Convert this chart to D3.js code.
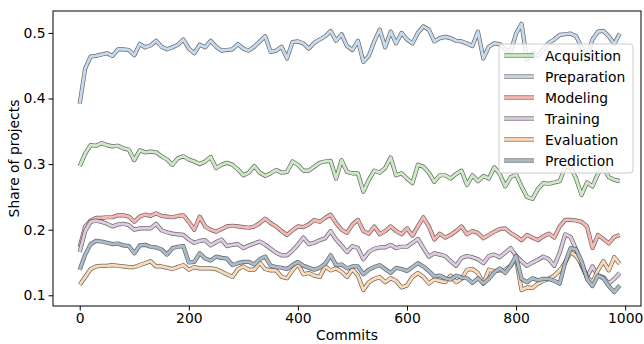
<!DOCTYPE html>
<html>
<head>
<meta charset="utf-8">
<script src="https://cdn.jsdelivr.net/npm/d3@7"></script>
<style>
  body { margin: 0; background: #fff; }
  svg { display: block; font-family: "DejaVu Sans", sans-serif; }
</style>
</head>
<body>
<div id="chart"></div>
<script>
// commits on the x axis
const commits = [0, 10, 20, 30, 40, 50, 60, 70, 80, 90, 100, 110, 120, 130, 140, 150, 160, 170, 180, 190,
  200, 210, 220, 230, 240, 250, 260, 270, 280, 290, 300, 310, 320, 330, 340, 350, 360, 370, 380, 390,
  400, 410, 420, 430, 440, 450, 460, 470, 480, 490, 500, 510, 520, 530, 540, 550, 560, 570, 580, 590,
  600, 610, 620, 630, 640, 650, 660, 670, 680, 690, 700, 710, 720, 730, 740, 750, 760, 770, 780, 790,
  800, 810, 820, 830, 840, 850, 860, 870, 880, 890, 900, 910, 920, 930, 940, 950, 960, 970, 980, 990];

const stages = ["Acquisition", "Preparation", "Modeling", "Training", "Evaluation", "Prediction"];
const colors = ["#ccebc5", "#c6dbf0", "#f7b8b4", "#decbe4", "#fed9b4", "#a9bccc"];

const acquisition = [0.297, 0.316, 0.329, 0.328, 0.332, 0.329, 0.327, 0.328, 0.324, 0.322,
  0.306, 0.321, 0.318, 0.319, 0.318, 0.312, 0.307, 0.299, 0.309, 0.312,
  0.307, 0.304, 0.300, 0.304, 0.311, 0.294, 0.299, 0.302, 0.299, 0.292,
  0.283, 0.287, 0.297, 0.287, 0.282, 0.286, 0.291, 0.287, 0.288, 0.304,
  0.299, 0.290, 0.290, 0.296, 0.302, 0.304, 0.305, 0.278, 0.306, 0.288,
  0.286, 0.286, 0.258, 0.276, 0.290, 0.287, 0.294, 0.310, 0.283, 0.286,
  0.278, 0.271, 0.299, 0.296, 0.287, 0.273, 0.283, 0.283, 0.278, 0.285,
  0.290, 0.268, 0.283, 0.274, 0.282, 0.278, 0.295, 0.285, 0.266, 0.280,
  0.284, 0.266, 0.250, 0.247, 0.262, 0.271, 0.270, 0.272, 0.274, 0.296,
  0.295, 0.278, 0.253, 0.272, 0.266, 0.285, 0.296, 0.280, 0.276, 0.274];

const preparation = [0.392, 0.446, 0.464, 0.465, 0.467, 0.469, 0.465, 0.475, 0.475, 0.474,
  0.466, 0.483, 0.478, 0.481, 0.488, 0.479, 0.475, 0.478, 0.482, 0.490,
  0.476, 0.469, 0.482, 0.478, 0.488, 0.479, 0.473, 0.474, 0.475, 0.483,
  0.476, 0.473, 0.479, 0.487, 0.495, 0.471, 0.473, 0.479, 0.461, 0.486,
  0.487, 0.484, 0.476, 0.485, 0.490, 0.495, 0.503, 0.488, 0.498, 0.480,
  0.474, 0.488, 0.456, 0.465, 0.487, 0.505, 0.478, 0.502, 0.484, 0.500,
  0.490, 0.484, 0.500, 0.510, 0.505, 0.487, 0.492, 0.494, 0.492, 0.488,
  0.487, 0.484, 0.480, 0.502, 0.461, 0.479, 0.484, 0.483, 0.475, 0.471,
  0.499, 0.514, 0.459, 0.470, 0.465, 0.475, 0.485, 0.490, 0.497, 0.498,
  0.499, 0.495, 0.478, 0.462, 0.490, 0.502, 0.503, 0.495, 0.483, 0.499];

const modeling = [0.174, 0.205, 0.214, 0.218, 0.218, 0.219, 0.219, 0.222, 0.222, 0.220,
  0.212, 0.220, 0.223, 0.221, 0.225, 0.221, 0.220, 0.219, 0.221, 0.222,
  0.212, 0.200, 0.220, 0.205, 0.200, 0.197, 0.201, 0.205, 0.206, 0.205,
  0.204, 0.203, 0.205, 0.210, 0.217, 0.210, 0.205, 0.198, 0.192, 0.199,
  0.205, 0.204, 0.208, 0.215, 0.212, 0.218, 0.223, 0.210, 0.200, 0.195,
  0.208, 0.215, 0.198, 0.194, 0.205, 0.193, 0.198, 0.205, 0.198, 0.193,
  0.202, 0.191, 0.205, 0.219, 0.205, 0.185, 0.194, 0.188, 0.192, 0.198,
  0.205, 0.193, 0.198, 0.195, 0.187, 0.192, 0.197, 0.201, 0.202, 0.195,
  0.190, 0.184, 0.192, 0.188, 0.184, 0.190, 0.194, 0.188, 0.205, 0.215,
  0.215, 0.214, 0.212, 0.205, 0.172, 0.192, 0.186, 0.179, 0.189, 0.192];

const training = [0.166, 0.198, 0.212, 0.214, 0.212, 0.209, 0.205, 0.208, 0.209, 0.207,
  0.200, 0.202, 0.202, 0.202, 0.209, 0.199, 0.196, 0.194, 0.193, 0.192,
  0.185, 0.180, 0.183, 0.184, 0.176, 0.181, 0.185, 0.175, 0.177, 0.178,
  0.172, 0.176, 0.179, 0.182, 0.177, 0.171, 0.165, 0.161, 0.161, 0.168,
  0.177, 0.188, 0.178, 0.180, 0.184, 0.187, 0.198, 0.185, 0.176, 0.166,
  0.175, 0.172, 0.155, 0.166, 0.171, 0.173, 0.173, 0.177, 0.172, 0.174,
  0.174, 0.180, 0.186, 0.172, 0.159, 0.164, 0.162, 0.160, 0.152, 0.145,
  0.157, 0.160, 0.158, 0.155, 0.149, 0.160, 0.162, 0.158, 0.165, 0.172,
  0.160, 0.152, 0.145, 0.150, 0.154, 0.159, 0.155, 0.145, 0.165, 0.193,
  0.189, 0.170, 0.145, 0.128, 0.144, 0.130, 0.128, 0.118, 0.125, 0.134];

const evaluation = [0.116, 0.128, 0.140, 0.144, 0.145, 0.145, 0.146, 0.145, 0.144, 0.143,
  0.143, 0.146, 0.149, 0.152, 0.144, 0.144, 0.142, 0.140, 0.143, 0.146,
  0.139, 0.143, 0.141, 0.141, 0.141, 0.140, 0.136, 0.132, 0.128, 0.140,
  0.144, 0.139, 0.139, 0.150, 0.140, 0.138, 0.138, 0.128, 0.126, 0.138,
  0.148, 0.132, 0.134, 0.130, 0.128, 0.144, 0.138, 0.141, 0.136, 0.128,
  0.140, 0.130, 0.108, 0.120, 0.125, 0.128, 0.120, 0.126, 0.122, 0.112,
  0.115, 0.128, 0.134, 0.128, 0.118, 0.124, 0.122, 0.120, 0.130, 0.120,
  0.125, 0.139, 0.140, 0.134, 0.118, 0.139, 0.137, 0.138, 0.139, 0.145,
  0.156, 0.108, 0.112, 0.111, 0.118, 0.122, 0.125, 0.130, 0.138, 0.150,
  0.166, 0.160, 0.148, 0.128, 0.120, 0.138, 0.152, 0.138, 0.158, 0.148];

const prediction = [0.139, 0.162, 0.178, 0.183, 0.182, 0.180, 0.178, 0.179, 0.176, 0.175,
  0.164, 0.176, 0.177, 0.174, 0.173, 0.170, 0.162, 0.172, 0.174, 0.175,
  0.150, 0.151, 0.164, 0.156, 0.153, 0.159, 0.157, 0.156, 0.146, 0.149,
  0.151, 0.151, 0.147, 0.155, 0.159, 0.145, 0.143, 0.142, 0.140, 0.146,
  0.151, 0.145, 0.142, 0.139, 0.142, 0.148, 0.161, 0.146, 0.147, 0.141,
  0.144, 0.144, 0.132, 0.139, 0.143, 0.146, 0.140, 0.134, 0.142, 0.140,
  0.137, 0.143, 0.149, 0.144, 0.137, 0.129, 0.130, 0.126, 0.124, 0.130,
  0.127, 0.126, 0.119, 0.126, 0.118, 0.125, 0.135, 0.141, 0.134, 0.145,
  0.160, 0.125, 0.120, 0.126, 0.123, 0.125, 0.125, 0.122, 0.118, 0.150,
  0.172, 0.170, 0.152, 0.125, 0.114, 0.130, 0.126, 0.114, 0.105, 0.115];

const xTicks = [0, 200, 400, 600, 800, 1000];
const yTicks = [0.1, 0.2, 0.3, 0.4, 0.5];

const series = [acquisition, preparation, modeling, training, evaluation, prediction];

const width = 644, height = 344;
const margin = { top: 11, right: 3, bottom: 38, left: 53 };
const fontSize = 13.9;

const svg = d3.select("#chart").append("svg")
  .attr("width", width)
  .attr("height", height);

const x = d3.scaleLinear()
  .domain([-49, 1029])
  .range([margin.left, width - margin.right]);

const y = d3.scaleLinear()
  .domain([0.0837, 0.5334])
  .range([height - margin.bottom, margin.top]);

const line = d3.line()
  .x((d, i) => x(commits[i]))
  .y(d => y(d));

// outline + pastel line, like a stroke path effect
const outline = { color: "#404040", opacity: 0.8, width: 4.2 };
const inner = 2.8;

series.forEach((vals, k) => {
  const g = svg.append("g");
  g.append("path")
    .attr("d", line(vals))
    .attr("fill", "none")
    .attr("stroke", outline.color)
    .attr("stroke-opacity", outline.opacity)
    .attr("stroke-width", outline.width)
    .attr("stroke-linejoin", "round");
  g.append("path")
    .attr("d", line(vals))
    .attr("fill", "none")
    .attr("stroke", colors[k])
    .attr("stroke-width", inner)
    .attr("stroke-linejoin", "round");
});

// axes
const xAxis = svg.append("g")
  .attr("transform", `translate(0,${height - margin.bottom})`)
  .call(d3.axisBottom(x).tickValues(xTicks).tickFormat(d3.format("d"))
    .tickSize(4.5).tickPadding(2.8).tickSizeOuter(0));

const yAxis = svg.append("g")
  .attr("transform", `translate(${margin.left},0)`)
  .call(d3.axisLeft(y).tickValues(yTicks).tickFormat(d3.format(".1f"))
    .tickSize(4.5).tickPadding(2.8).tickSizeOuter(0));

[xAxis, yAxis].forEach(a => {
  a.select(".domain").remove();
  a.selectAll("text").attr("font-size", fontSize).attr("fill", "#000").attr("font-family", "DejaVu Sans");
  a.selectAll("line").attr("stroke", "#000").attr("stroke-width", 1);
});

// frame
svg.append("rect")
  .attr("x", margin.left)
  .attr("y", margin.top)
  .attr("width", width - margin.right - margin.left)
  .attr("height", height - margin.bottom - margin.top)
  .attr("fill", "none")
  .attr("stroke", "#000")
  .attr("stroke-width", 1);

svg.append("text")
  .attr("x", (margin.left + width - margin.right) / 2)
  .attr("y", 340)
  .attr("text-anchor", "middle")
  .attr("font-size", fontSize)
  .text("Commits");

svg.append("text")
  .attr("transform", `translate(19,${(margin.top + height - margin.bottom) / 2}) rotate(-90)`)
  .attr("text-anchor", "middle")
  .attr("font-size", fontSize)
  .text("Share of projects");

// legend
const leg = svg.append("g").attr("transform", "translate(499,44)");
leg.append("rect")
  .attr("width", 134)
  .attr("height", 129)
  .attr("rx", 3)
  .attr("fill", "#fff")
  .attr("fill-opacity", 0.8)
  .attr("stroke", "#ccc")
  .attr("stroke-width", 1);

stages.forEach((s, k) => {
  const row = leg.append("g").attr("transform", `translate(0,${11.5 + k * 21})`);
  row.append("line")
    .attr("x1", 5).attr("x2", 35)
    .attr("stroke", outline.color).attr("stroke-opacity", outline.opacity)
    .attr("stroke-width", outline.width);
  row.append("line")
    .attr("x1", 5).attr("x2", 35)
    .attr("stroke", colors[k])
    .attr("stroke-width", inner);
  row.append("text")
    .attr("x", 46)
    .attr("dy", "0.36em")
    .attr("font-size", fontSize)
    .text(s);
});
</script>
</body>
</html>
